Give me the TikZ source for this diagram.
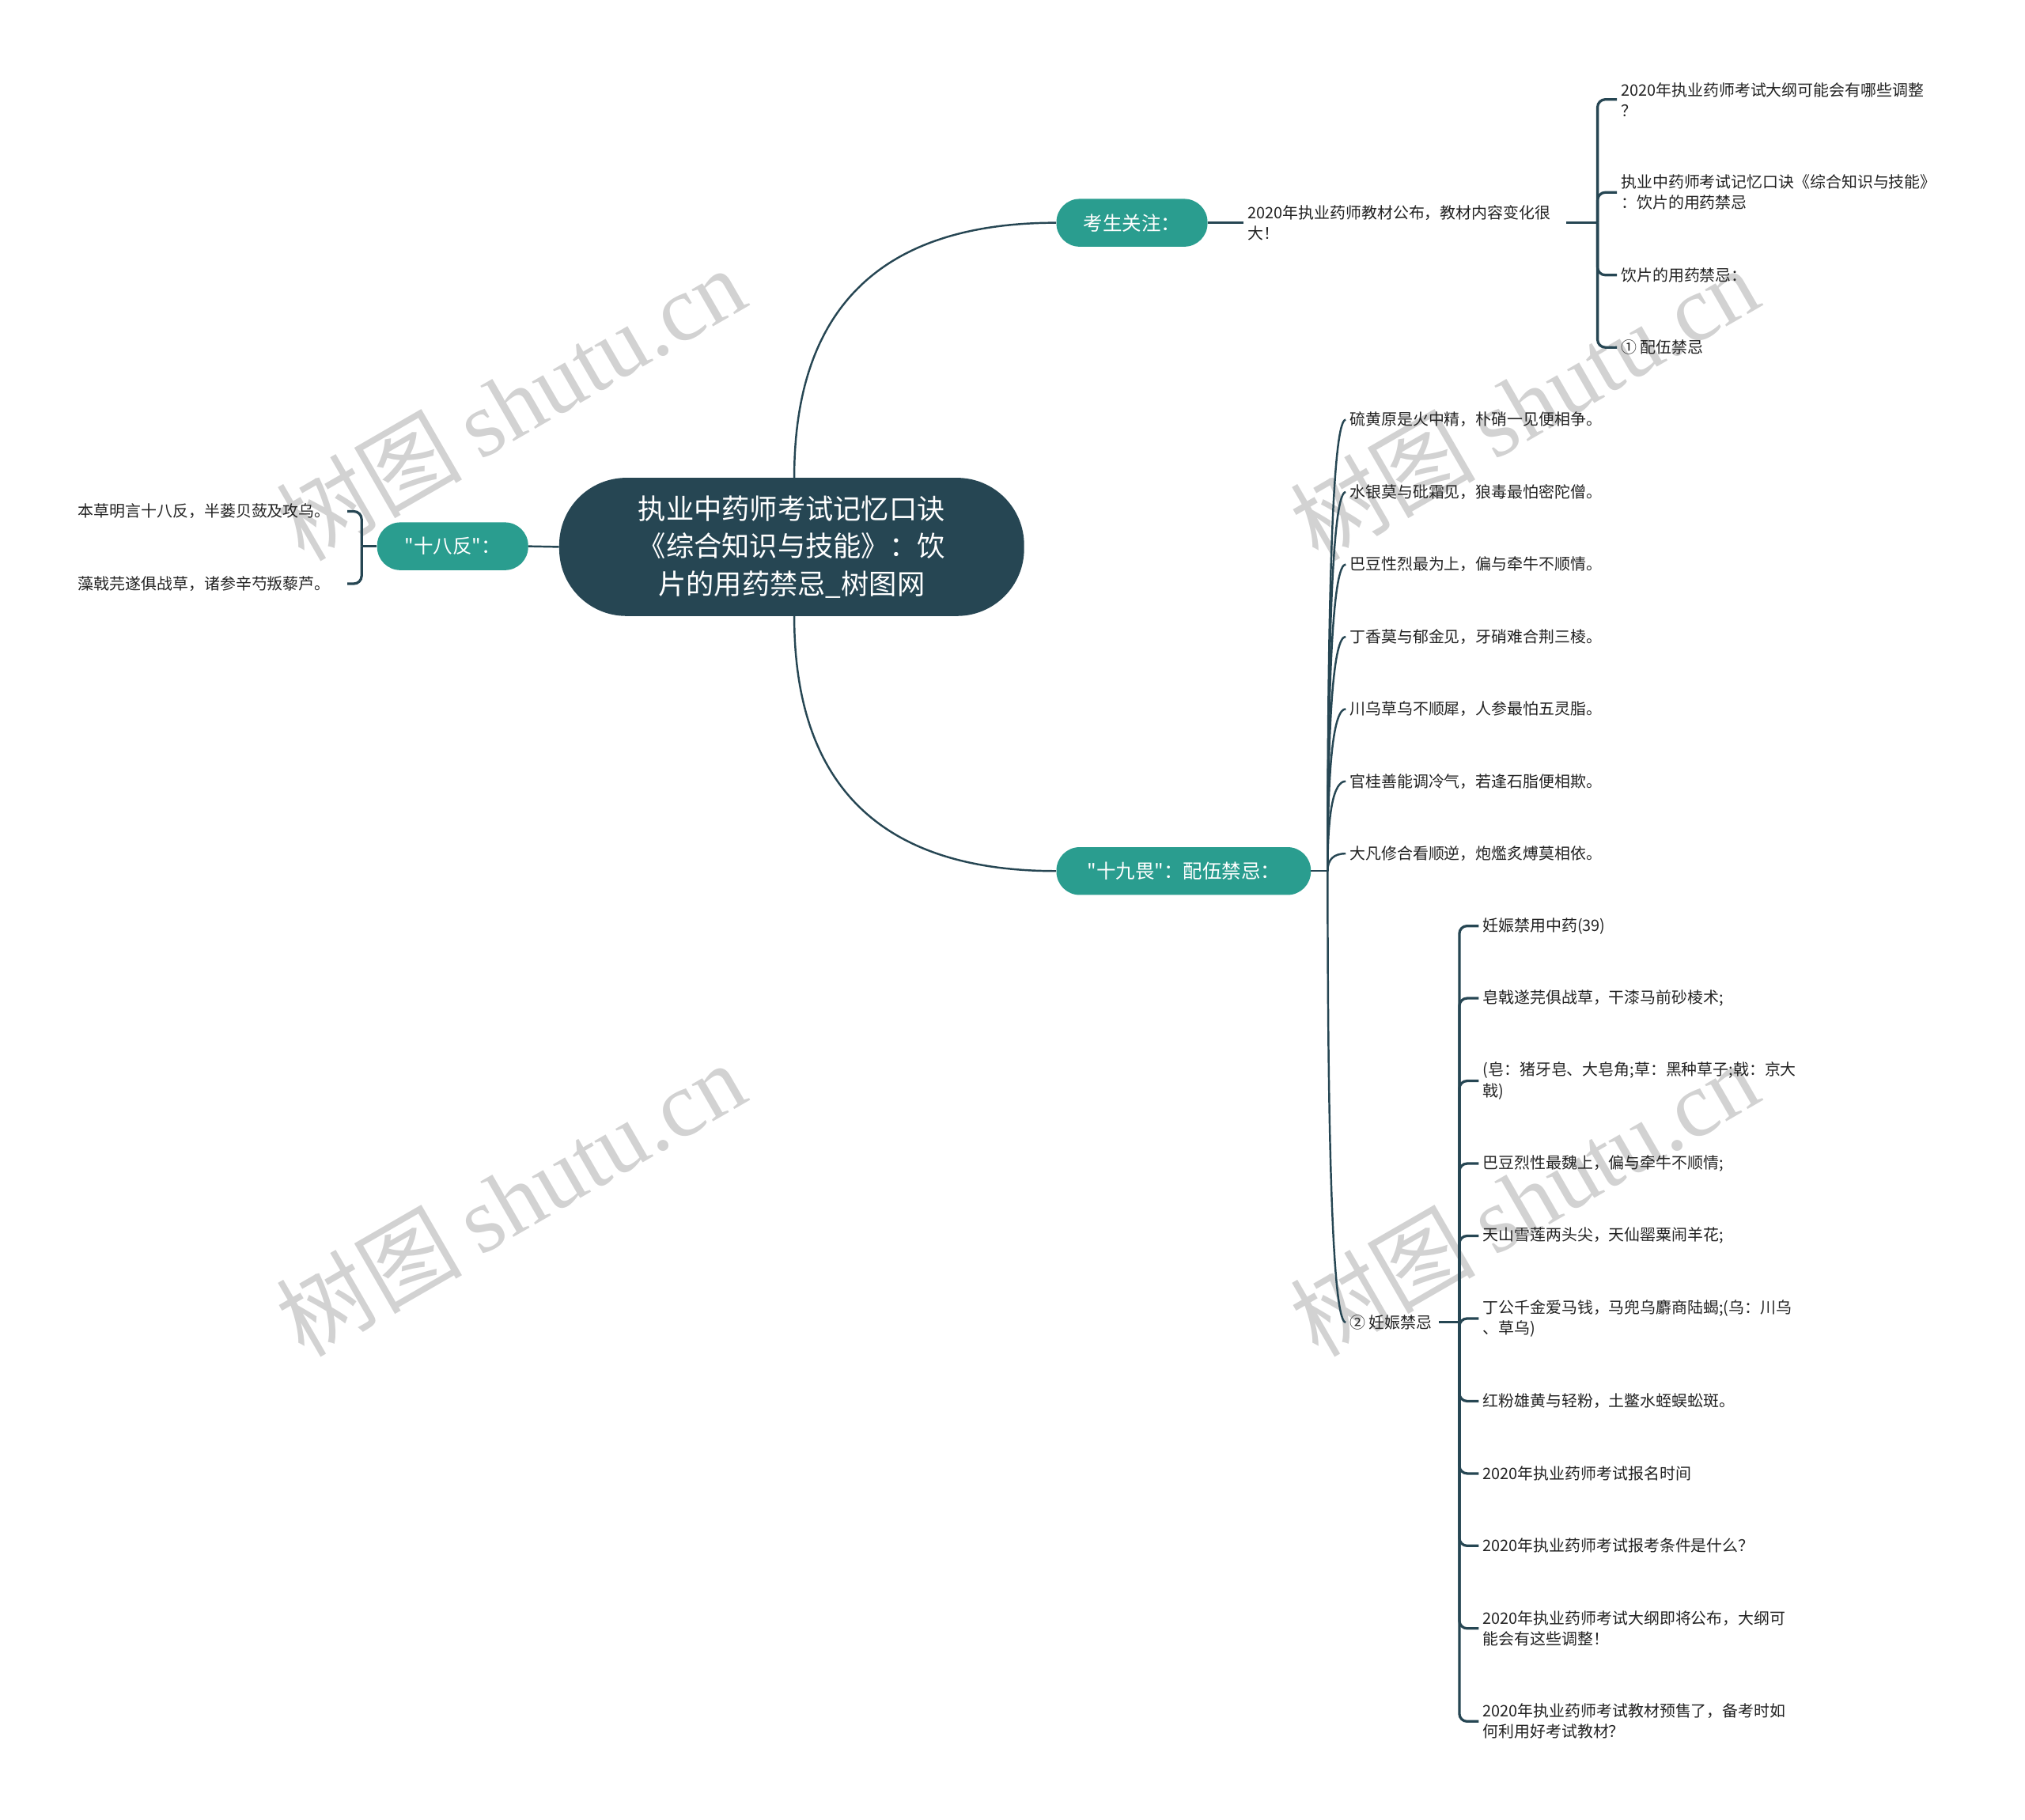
\documentclass[tikz,border=0pt]{standalone}
\usepackage{fontspec}
\usetikzlibrary{calc}
\newfontfamily\cjk{Noto Sans CJK SC}
\newfontfamily\wmlatin{Liberation Serif}
\definecolor{mmdark}{HTML}{264653}
\definecolor{mmteal}{HTML}{2A9D8F}
\definecolor{mmwm}{HTML}{D2D2D2}
\definecolor{mmtext}{HTML}{222222}
\begin{document}
\begin{tikzpicture}[x=1pt,y=-1pt,
  rootbox/.style={fill=mmdark, text=white, rounded corners=52pt, minimum width=360pt, minimum height=107pt, align=center, font=\cjk\fontsize{21.6}{29}\selectfont, inner sep=0pt},
  topic/.style={fill=mmteal, text=white, rounded corners=18pt, minimum height=37pt, font=\cjk\fontsize{15}{18}\selectfont, inner sep=0pt},
  leaf/.style={font=\cjk\fontsize{12.2}{16}\selectfont, align=left, inner sep=3pt, text=mmtext},
  conn/.style={draw=mmdark, line width=1.5pt},
  brk/.style={draw=mmdark, line width=2pt, rounded corners=6pt},
  wmark/.style={text=mmwm, rotate=30, inner sep=0pt}
]
\useasboundingbox (0,0) rectangle (1568,1409);
% watermarks
\node[wmark] (w1) at (395,312) {\fontsize{72}{72}\selectfont\cjk 树图\hspace{14pt}\wmlatin shutu.cn};
\node[wmark] (w2) at (1180,312) {\fontsize{72}{72}\selectfont\cjk 树图\hspace{14pt}\wmlatin shutu.cn};
\node[wmark] (w3) at (395,928) {\fontsize{72}{72}\selectfont\cjk 树图\hspace{14pt}\wmlatin shutu.cn};
\node[wmark] (w4) at (1180,928) {\fontsize{72}{72}\selectfont\cjk 树图\hspace{14pt}\wmlatin shutu.cn};

% central and main topics
\node[rootbox] (c) at (613,423.5) {执业中药师考试记忆口诀\\《综合知识与技能》：饮\\片的用药禁忌\_树图网};
\node[topic, minimum width=117pt] (k) at (876.5,172.5) {考生关注：};
\node[topic, minimum width=197pt] (n19) at (916.5,674.5) {"十九畏"：配伍禁忌：};
\node[topic, minimum width=117pt] (n18) at (350.5,423) {"十八反"：};

\coordinate (ck) at ([xshift=2pt]c.north |- k.west);
\coordinate (cn) at ([xshift=2pt]c.south |- n19.west);
\draw[conn] ([xshift=2pt]c.north) .. controls ($([xshift=2pt]c.north)!0.6667!(ck)$) and ($(k.west)!0.6667!(ck)$) .. (k.west);
\draw[conn] ([xshift=2pt]c.south) .. controls ($([xshift=2pt]c.south)!0.6667!(cn)$) and ($(n19.west)!0.6667!(cn)$) .. (n19.west);
\draw[conn] (c.west) -- (n18.east);

% 考生关注 group
\node[leaf, anchor=west] (k1) at (963,172.5) {2020年执业药师教材公布，教材内容变化很\\大！};
\coordinate (kb) at (1237,172.5);
\draw[brk] (k.east) -- (k1.west);
\draw[brk] ([xshift=9pt]k1.east) -- (kb);
\node[leaf, anchor=west] (k11) at (1252,77) {2020年执业药师考试大纲可能会有哪些调整\\？};
\node[leaf, anchor=west] (k12) at (1252,149) {执业中药师考试记忆口诀《综合知识与技能》\\：饮片的用药禁忌};
\node[leaf, anchor=west] (k13) at (1252,213) {饮片的用药禁忌：};
\node[leaf, anchor=west] (k14) at (1252,269) {① 配伍禁忌};
\foreach \n in {k11,k12,k13,k14} \draw[brk] (kb) |- (\n.west);

% 十八反 group
\coordinate (fb) at (280,423);
\draw[brk] (n18.west) -- (fb);
\node[leaf, anchor=east] (f1) at (259,396) {本草明言十八反，半蒌贝蔹及攻乌。};
\node[leaf, anchor=east] (f2) at (259,452) {藻戟芫遂俱战草，诸参辛芍叛藜芦。};
\foreach \n in {f1,f2} \draw[brk] (fb) |- ([xshift=10pt]\n.east);

% 十九畏 group
\coordinate (nb) at (1028,674.5);
\draw[conn] (n19.east) -- (nb);
\node[leaf, anchor=west] (p1) at (1042,325) {硫黄原是火中精，朴硝一见便相争。};
\node[leaf, anchor=west] (p2) at (1042,381) {水银莫与砒霜见，狼毒最怕密陀僧。};
\node[leaf, anchor=west] (p3) at (1042,437) {巴豆性烈最为上，偏与牵牛不顺情。};
\node[leaf, anchor=west] (p4) at (1042,493) {丁香莫与郁金见，牙硝难合荆三棱。};
\node[leaf, anchor=west] (p5) at (1042,549) {川乌草乌不顺犀，人参最怕五灵脂。};
\node[leaf, anchor=west] (p6) at (1042,605) {官桂善能调冷气，若逢石脂便相欺。};
\node[leaf, anchor=west] (p7) at (1042,661) {大凡修合看顺逆，炮爁炙煿莫相依。};
\node[leaf, anchor=west] (p8) at (1042,1024) {② 妊娠禁忌};
\foreach \n in {p1,p2,p3,p4,p5,p6,p7,p8} {
  \coordinate (q\n) at (nb |- \n.west);
  \draw[conn] (nb) .. controls ($(nb)!0.6667!(q\n)$) and ($(\n.west)!0.6667!(q\n)$) .. (\n.west);
}

% 妊娠禁忌 group
\coordinate (rb) at (1130,1024);
\draw[brk] ([xshift=2pt]p8.east) -- (rb);
\node[leaf, anchor=west] (r1) at (1145,717) {妊娠禁用中药(39)};
\node[leaf, anchor=west] (r2) at (1145,773) {皂戟遂芫俱战草，干漆马前砂棱术;};
\node[leaf, anchor=west] (r3) at (1145,837) {(皂：猪牙皂、大皂角;草：黑种草子;戟：京大\\戟)};
\node[leaf, anchor=west] (r4) at (1145,901) {巴豆烈性最魏上，偏与牵牛不顺情;};
\node[leaf, anchor=west] (r5) at (1145,957) {天山雪莲两头尖，天仙罂粟闹羊花;};
\node[leaf, anchor=west] (r6) at (1145,1021) {丁公千金爱马钱，马兜乌麝商陆蝎;(乌：川乌\\、草乌)};
\node[leaf, anchor=west] (r7) at (1145,1085) {红粉雄黄与轻粉，土鳖水蛭蜈蚣斑。};
\node[leaf, anchor=west] (r8) at (1145,1141) {2020年执业药师考试报名时间};
\node[leaf, anchor=west] (r9) at (1145,1197) {2020年执业药师考试报考条件是什么？};
\node[leaf, anchor=west] (r10) at (1145,1261) {2020年执业药师考试大纲即将公布，大纲可\\能会有这些调整！};
\node[leaf, anchor=west] (r11) at (1145,1333) {2020年执业药师考试教材预售了，备考时如\\何利用好考试教材？};
\foreach \n in {r1,r2,r3,r4,r5,r6,r7,r8,r9,r10,r11} \draw[brk] (rb) |- (\n.west);
\end{tikzpicture}
\end{document}
